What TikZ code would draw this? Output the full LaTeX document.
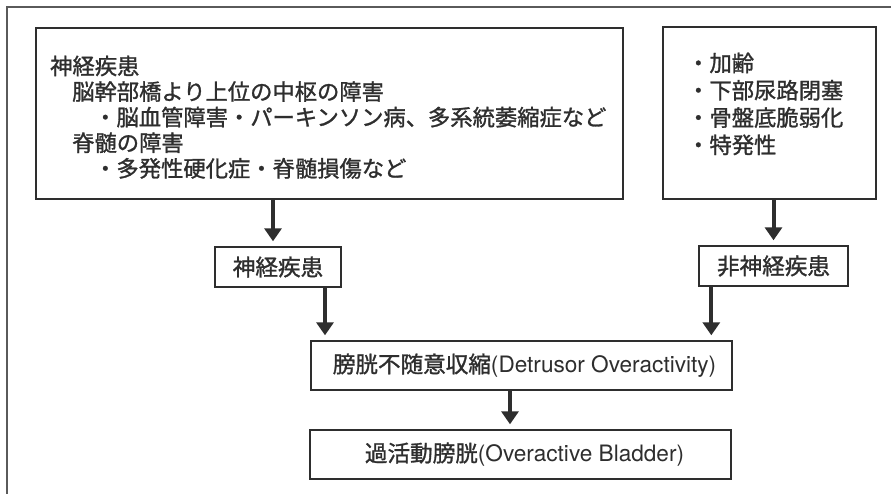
\documentclass[tikz,border=0pt]{standalone}
\usepackage{fontspec}
\setmainfont{TeX Gyre Heros}
\newfontfamily\cjk{Noto Sans CJK JP}[FakeBold=1.2]
\usetikzlibrary{arrows.meta,calc}
\definecolor{ink}{HTML}{2E2E2E}
\definecolor{framec}{HTML}{5A5A5A}
\begin{document}
\begin{tikzpicture}[x=1pt,y=-1pt,
  box/.style={draw=ink,line width=1.4pt,inner sep=0pt},
  txt/.style={inner sep=0pt,anchor=base west,text=ink,font=\cjk\fontsize{22.3}{26}\selectfont},
  ctxt/.style={inner sep=0pt,text=ink,font=\fontsize{22.6}{26}\selectfont},
  arr/.style={draw=ink,line width=4pt,-{Triangle[width=17pt,length=13pt]},shorten >=5pt}]
\useasboundingbox (0,0) rectangle (891,494);
\fill[white] (0,0) rectangle (891,494);
% outer frame (cropped)
\coordinate (fb) at (7,494);
\coordinate (ftl) at (7,7);
\coordinate (fr) at (891,7);
\draw[framec,line width=1.3pt] (fb) -- (ftl) -- (fr);
% boxes
\node[box,minimum width=587pt,minimum height=171pt] (L) at (329.5,113.5) {};
\node[box,minimum width=213pt,minimum height=172pt] (R) at (769.5,113) {};
\node[box,minimum width=126pt,minimum height=40pt] (SL) at (278,267) {};
\node[box,minimum width=149pt,minimum height=40pt] (SR) at (773.5,266) {};
\node[box,minimum width=421pt,minimum height=49pt] (M) at (521.5,365.5) {};
\node[box,minimum width=421pt,minimum height=49pt] (B) at (520.5,454.5) {};
% left box text
\node[txt] (l1) at (50,74.4) {神経疾患};
\node[txt] (l2) at (72,100) {脳幹部橋より上位の中枢の障害};
\node[txt] (l3) at (94,125.6) {・脳血管障害・パーキンソン病、多系統萎縮症など};
\node[txt] (l4) at (72,151.2) {脊髄の障害};
\node[txt] (l5) at (94,176.8) {・多発性硬化症・脊髄損傷など};
% right box text
\node[txt] (r1) at (687,71.4) {・加齢};
\node[txt] (r2) at (687,98.7) {・下部尿路閉塞};
\node[txt] (r3) at (687,126) {・骨盤底脆弱化};
\node[txt] (r4) at (687,153.3) {・特発性};
% small and lower box texts
\node[ctxt] (tSL) at (SL.center) {\cjk 神経疾患};
\node[ctxt] (tSR) at (SR.center) {\cjk 非神経疾患};
\node[ctxt] (tM) at ([xshift=3pt]M.center) {{\cjk 膀胱不随意収縮}(Detrusor Overactivity)};
\node[ctxt] (tB) at ([xshift=4pt]B.center) {{\cjk 過活動膀胱}(Overactive Bladder)};
% arrows
\draw[arr] ([xshift=-5pt]SL.north |- L.south) -- ([xshift=-5pt]SL.north);
\draw[arr] (SR.north |- R.south) -- (SR.north);
\draw[arr] ([xshift=47pt]SL.south) -- ([xshift=47pt]SL.south |- M.north);
\draw[arr] ([xshift=13pt]SR.south west) -- ([xshift=13pt]SR.south west |- M.north);
\draw[arr] ([xshift=-11.5pt]M.south) -- ([xshift=-11.5pt]M.south |- B.north);
\end{tikzpicture}
\end{document}
